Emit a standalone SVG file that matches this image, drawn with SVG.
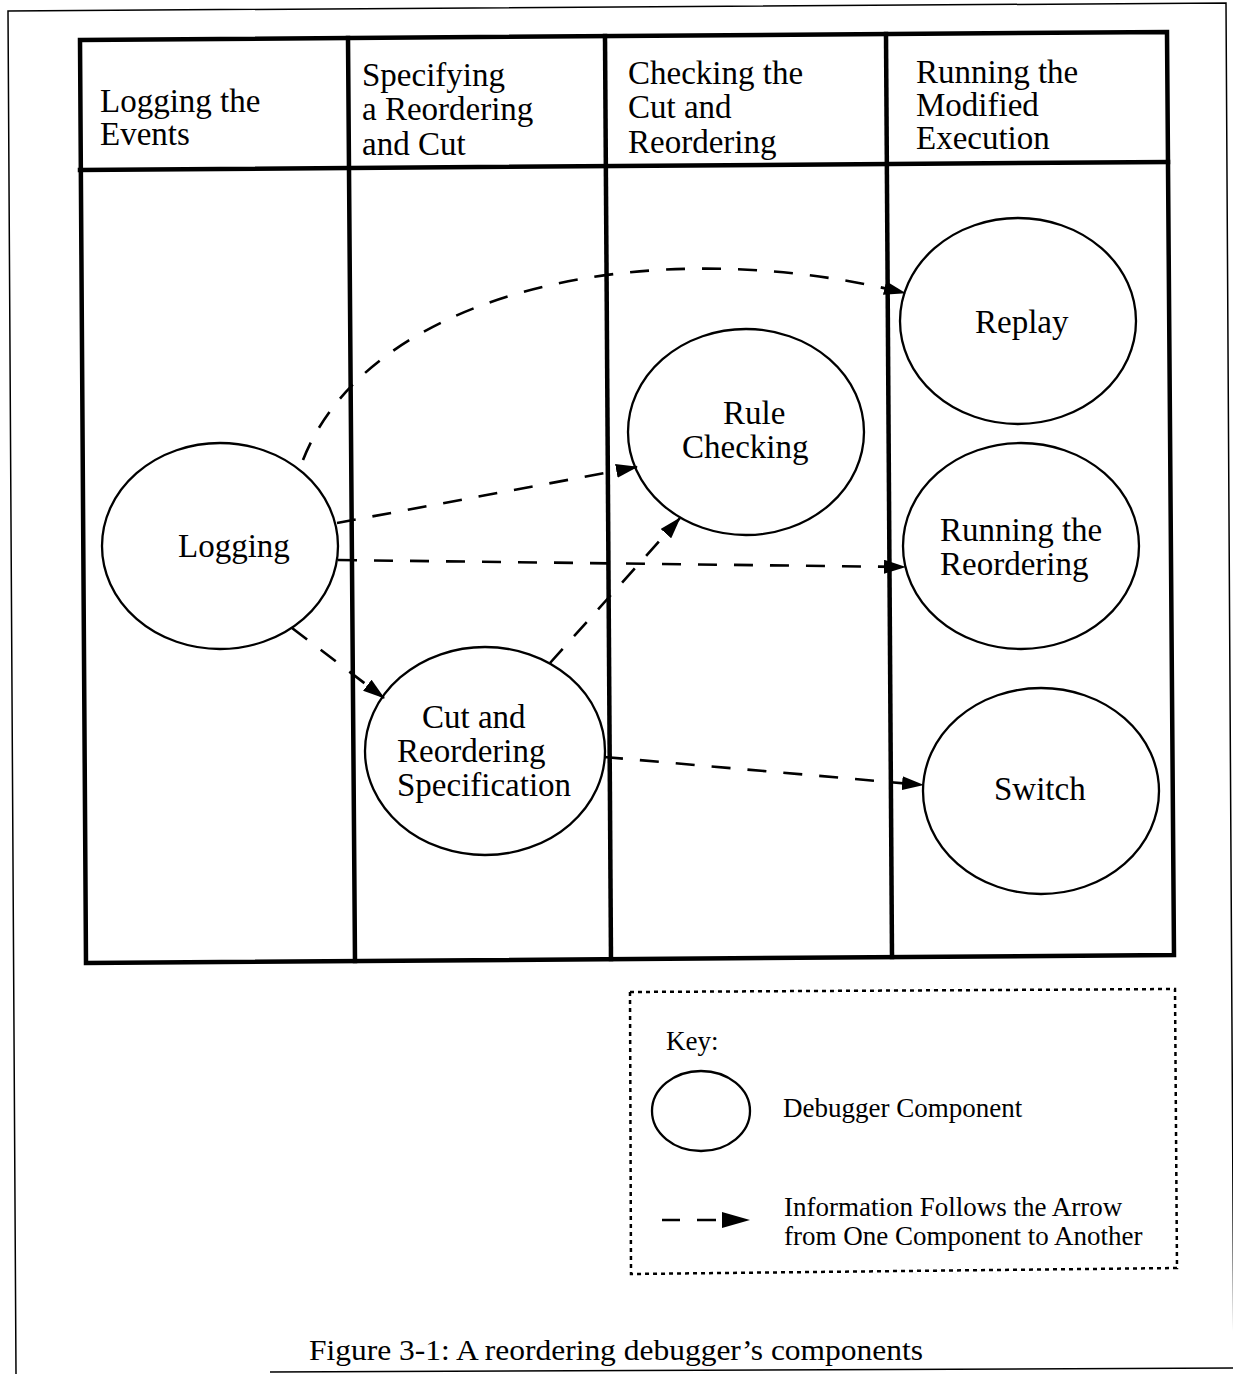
<svg xmlns="http://www.w3.org/2000/svg" width="1233" height="1374" viewBox="0 0 1233 1374">
<style>
.frame{fill:none;stroke:#000;stroke-width:1.5}
.grid{fill:none;stroke:#000;stroke-width:4.5;stroke-linecap:square}
.node{fill:none;stroke:#000;stroke-width:2.3}
.conn{fill:none;stroke:#000;stroke-width:2.6;stroke-dasharray:19 17}
.lbl{font-family:"Liberation Serif","Times New Roman",serif;font-size:33px;fill:#000}
.key{font-family:"Liberation Serif","Times New Roman",serif;font-size:27px;fill:#000}
.cap{font-family:"Liberation Serif","DejaVu Serif",serif;font-size:29px;fill:#000}
</style>
<defs>
<marker id="ah" markerUnits="userSpaceOnUse" markerWidth="22" markerHeight="14" refX="21" refY="7" orient="auto">
<path d="M0,0 L22,7 L0,14 z" fill="#000"/>
</marker>
</defs>
<rect width="1233" height="1374" fill="#fff"/>
<g id="page-frame">
<path class="frame" d="M16,1374 L8,11 L1226,3 L1234,1374"/>
<path class="frame" d="M270,1372 L1233,1368"/>
</g>
<g id="lanes">
<path class="grid" d="M80,40 L1167,32 L1174,955 L86,963 Z"/>
<path class="grid" d="M80,170 L1168,162"/>
<path class="grid" d="M348,38 L355,961"/>
<path class="grid" d="M605,36 L611,959"/>
<path class="grid" d="M886,34 L892,957"/>
<g id="header-logging"><text class="lbl" x="100" y="112">Logging the</text><text class="lbl" x="100" y="145">Events</text></g>
<g id="header-specifying"><text class="lbl" x="362" y="86">Specifying</text><text class="lbl" x="362" y="120">a Reordering</text><text class="lbl" x="362" y="155">and Cut</text></g>
<g id="header-checking"><text class="lbl" x="628" y="84">Checking the</text><text class="lbl" x="628" y="118">Cut and</text><text class="lbl" x="628" y="153">Reordering</text></g>
<g id="header-running"><text class="lbl" x="916" y="83">Running the</text><text class="lbl" x="916" y="116">Modified</text><text class="lbl" x="916" y="149">Execution</text></g>
</g>
<g id="connectors">
<path class="conn" d="M303,460 C370,290 650,230 905,293" marker-end="url(#ah)"/>
<path class="conn" d="M337,523 L637,467" marker-end="url(#ah)"/>
<path class="conn" d="M338,560 L905,567" marker-end="url(#ah)"/>
<path class="conn" d="M292,628 L384,698" marker-end="url(#ah)"/>
<path class="conn" d="M550,663 L680,518" marker-end="url(#ah)"/>
<path class="conn" d="M604,757 L923,785" marker-end="url(#ah)"/>
</g>
<g id="node-logging">
<ellipse class="node" cx="220" cy="546" rx="118" ry="103"/>
<text class="lbl" x="178" y="557">Logging</text>
</g>
<g id="node-cut-spec">
<ellipse class="node" cx="485" cy="751" rx="120" ry="104"/>
<text class="lbl" x="422" y="728">Cut and</text>
<text class="lbl" x="397" y="762">Reordering</text>
<text class="lbl" x="397" y="796">Specification</text>
</g>
<g id="node-rule-checking">
<ellipse class="node" cx="746" cy="432" rx="118" ry="103"/>
<text class="lbl" x="723" y="424">Rule</text>
<text class="lbl" x="682" y="458">Checking</text>
</g>
<g id="node-replay">
<ellipse class="node" cx="1018" cy="321" rx="118" ry="103"/>
<text class="lbl" x="975" y="333">Replay</text>
</g>
<g id="node-running-reordering">
<ellipse class="node" cx="1021" cy="546" rx="118" ry="103"/>
<text class="lbl" x="940" y="541">Running the</text>
<text class="lbl" x="940" y="575">Reordering</text>
</g>
<g id="node-switch">
<ellipse class="node" cx="1041" cy="791" rx="118" ry="103"/>
<text class="lbl" x="994" y="800">Switch</text>
</g>
<g id="legend">
<path d="M630,992 L1175,989 L1177,1268 L631,1274 Z" fill="none" stroke="#000" stroke-width="2.5" stroke-dasharray="4 4"/>
<text class="key" x="666" y="1050">Key:</text>
<ellipse class="node" cx="701" cy="1111" rx="49" ry="40"/>
<text class="key" x="783" y="1117">Debugger Component</text>
<path d="M662,1220 L680,1220 M697,1220 L716,1220" stroke="#000" stroke-width="2.6" fill="none"/>
<path d="M722,1212 L750,1220 L722,1228 Z" fill="#000"/>
<text class="key" x="784" y="1216">Information Follows the Arrow</text>
<text class="key" x="784" y="1245">from One Component to Another</text>
</g>
<g id="caption">
<text class="cap" x="309" y="1360" textLength="614" lengthAdjust="spacingAndGlyphs">Figure 3-1: A reordering debugger’s components</text>
</g>
</svg>
